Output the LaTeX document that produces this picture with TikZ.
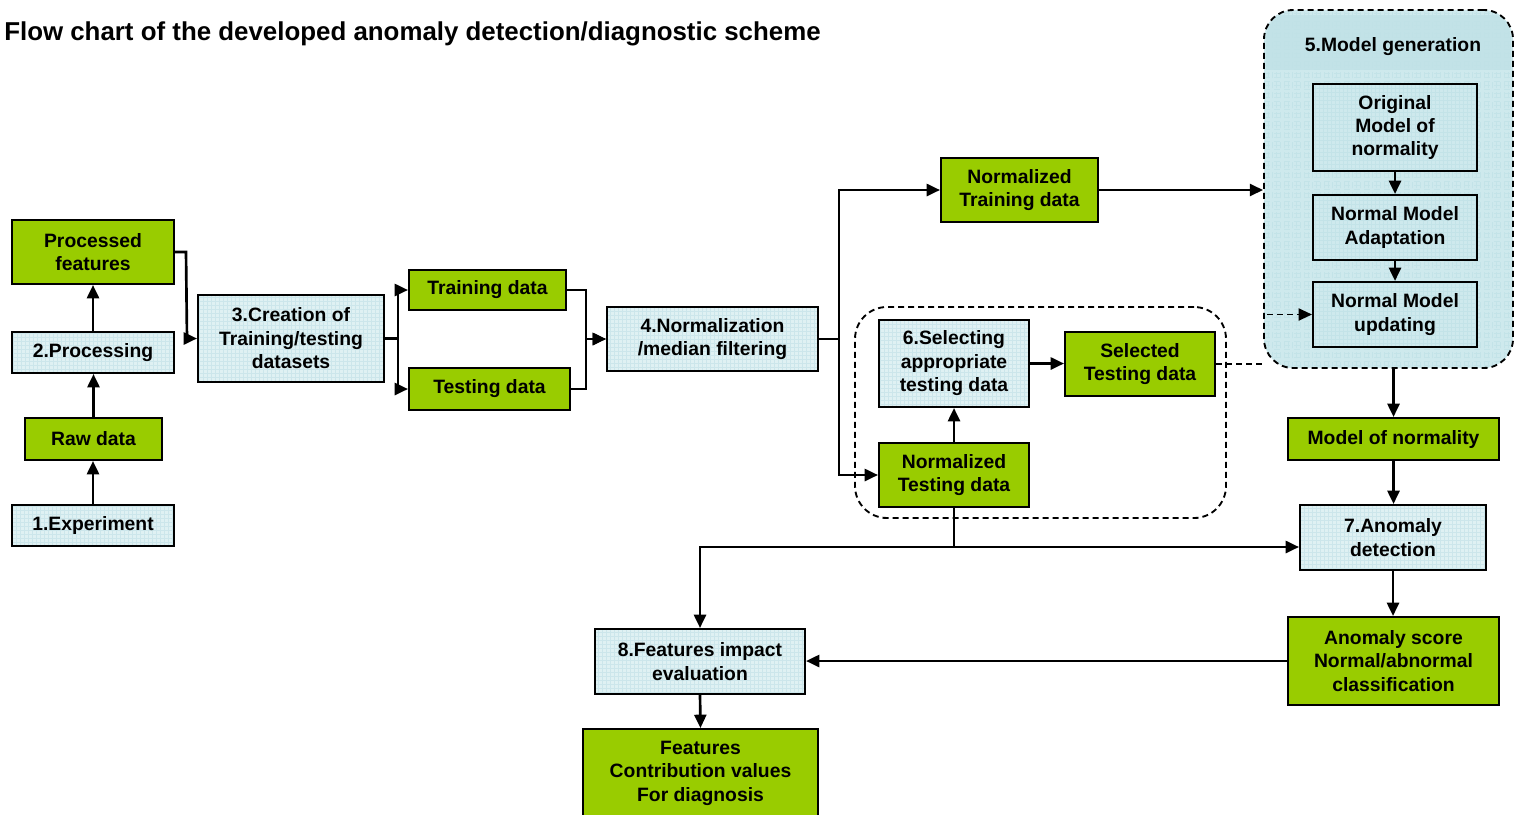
\documentclass[tikz,border=0pt]{standalone}
\usepackage{fontspec}
\setmainfont{Liberation Sans}
\usetikzlibrary{arrows.meta,calc}

\definecolor{leaf}{HTML}{99CC00}
\definecolor{pale}{HTML}{DFF1F3}
\definecolor{paleline}{HTML}{CCE6EB}
\definecolor{tealfill}{HTML}{CEE9ED}
\definecolor{tealline}{HTML}{C3E3E8}
\definecolor{tealband}{HTML}{C0E1E6}

\tikzset{
  base/.style={draw=black, line width=1.5pt, inner sep=0pt, align=center,
    font=\bfseries\fontsize{14.5}{17.6}\selectfont},
  gridfill/.style={path picture={\draw[#1, line width=0.35pt]
    (path picture bounding box.south west) grid[step=3pt]
    (path picture bounding box.north east);}},
  gbox/.style={base, fill=leaf},
  bbox/.style={base, fill=pale, gridfill=paleline},
  tbox/.style={base, fill=tealfill, gridfill=tealline},
  tip/.style={-{Triangle[length=10pt,width=9pt]}},
  link/.style={line width=2pt, tip},
  dashedline/.style={line width=1.4pt, dash pattern=on 4.5pt off 3pt},
}

% box from its left, top, right and bottom edges (pixel grid)
\newcommand\boxlt[7]{%
  \node[#6, minimum width={(#4-#2)*0.75pt}, minimum height={(#5-#3)*0.75pt}]
    (#1) at ({(#2+#4)/2},{(#3+#5)/2}) {#7};}

\begin{document}
\begin{tikzpicture}[x=0.75pt, y=-0.75pt]
\useasboundingbox (0,0) rectangle (1515,814);
\clip (0,0) rectangle (1515,814);

% title
\node[anchor=west, inner sep=0pt, font=\bfseries\fontsize{19.4}{22}\selectfont]
  (title) at (4,34) {Flow chart of the developed anomaly detection/diagnostic scheme};

% model generation group
\node[draw=black, dashedline, fill=tealfill, gridfill=tealline, rounded corners=22pt,
  minimum width={249*0.75pt}, minimum height={358*0.75pt}, inner sep=0pt]
  (gen) at (1388.5,189) {};
\begin{scope}
  \clip[rounded corners=20pt] (1266,12) rectangle (1511,366);
  \fill[tealband, opacity=0.8] (1266,15) rectangle (1511,70);
\end{scope}
\node[font=\bfseries\fontsize{14.5}{17}\selectfont] (gentitle) at (1393,47) {5.Model generation};

% selection group
\node[draw=black, dashedline, rounded corners=24pt, inner sep=0pt,
  minimum width={371*0.75pt}, minimum height={211*0.75pt}]
  (selgrp) at (1040.5,412.5) {};

% left column
\boxlt{pf}{12}{220}{174}{284}{gbox}{Processed\\features}
\boxlt{proc}{12}{332}{174}{373}{bbox}{2.Processing}
\boxlt{raw}{25}{418}{162}{460}{gbox}{Raw data}
\boxlt{exp}{12}{505}{174}{546}{bbox}{1.Experiment}

% datasets
\boxlt{creat}{198}{295}{384}{382}{bbox}{3.Creation of\\Training/testing\\datasets}
\boxlt{train}{409}{270}{566}{310}{gbox}{Training data}
\boxlt{test}{409}{368}{570}{410}{gbox}{Testing data}
\boxlt{norm}{607}{307}{818}{371}{bbox}{4.Normalization\\/median filtering}

% normalized data and selection
\boxlt{ntrain}{941}{158}{1098}{222}{gbox}{Normalized\\Training data}
\boxlt{sel}{879}{320}{1029}{407}{bbox}{6.Selecting\\appropriate\\testing data}
\boxlt{seltest}{1065}{332}{1215}{396}{gbox}{Selected\\Testing data}
\boxlt{ntest}{879}{443}{1029}{507}{gbox}{Normalized\\Testing data}

% model boxes
\boxlt{orig}{1313}{84}{1477}{171}{tbox}{Original\\Model of\\normality}
\boxlt{adapt}{1313}{195}{1477}{260}{tbox}{Normal Model\\Adaptation}
\boxlt{upd}{1313}{282}{1477}{347}{tbox}{Normal Model\\updating}

% detection chain
\boxlt{mon}{1288}{418}{1499}{460}{gbox}{Model of normality}
\boxlt{det}{1300}{505}{1486}{570}{bbox}{7.Anomaly\\detection}
\boxlt{score}{1288}{617}{1499}{705}{gbox}{Anomaly score\\Normal/abnormal\\classification}

% diagnosis
\boxlt{feat}{595}{629}{805}{694}{bbox}{8.Features impact\\evaluation}
\boxlt{contrib}{583}{729}{818}{817}{gbox}{Features\\Contribution values\\For diagnosis}

% connectors: preprocessing
\draw[link] (exp.north) -- (exp.north |- raw.south);
\draw[link] (raw.north) -- (raw.north |- proc.south);
\draw[link] (proc.north) -- (proc.north |- pf.south);
\draw[link] (pf.east) -- ++(11,0) -- ($(creat.west)+(-10,0)$) -- (creat.west);

% split into training / testing
\draw[link] (creat.east) -- ++(13,0) |- (train.west);
\draw[link] (creat.east) -- ++(13,0) |- (test.west);
\draw[link] (train.east) -- ++(19,0) |- (norm.west);
\draw[link] (test.east) -- ++(15,0) |- (norm.west);

% normalization outputs
\draw[link] (norm.east) -- ++(20,0) |- (ntrain.west);
\draw[link] (norm.east) -- ++(20,0) |- (ntest.west);
\draw[link] (ntrain.east) -- (ntrain.east -| gen.west);
\draw[link] (ntest.north) -- (sel.south);
\draw[link] (sel.east) -- (sel.east -| seltest.west);
\draw[dashedline] (seltest.east) -- (seltest.east -| gen.west);

% model generation
\draw[link] (orig.south) -- (adapt.north);
\draw[link] (adapt.south) -- (upd.north);
\draw[dashedline, tip] ($(gen.west |- upd.west)+(4,0)$) -- (upd.west);
\draw[link] (mon.north |- gen.south) -- (mon.north);

% detection
\draw[link] (mon.south) -- (mon.south |- det.north);
\draw[link] (det.south) -- (det.south |- score.north);
\draw[link] (ntest.south) |- ($(det.west)+(0,9.5)$);
\draw[link] (ntest.south) -- ++(0,39) -| (feat.north);
\draw[link] (score.west) -- (score.west -| feat.east);
\draw[link] (feat.south) -- (contrib.north);
\end{tikzpicture}
\end{document}
